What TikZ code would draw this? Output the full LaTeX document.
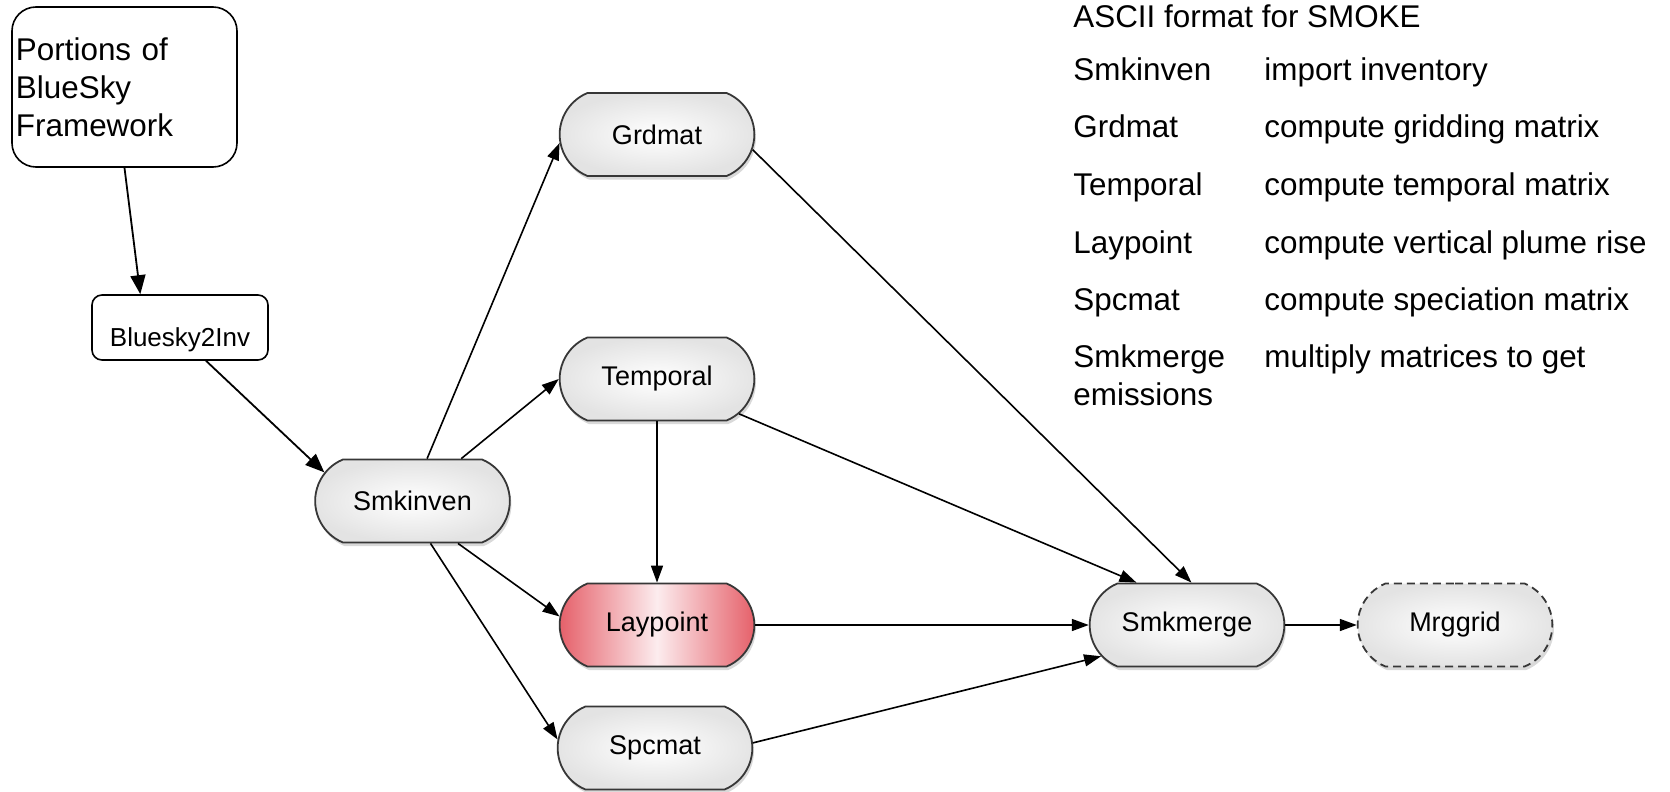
\documentclass[tikz,border=0pt]{standalone}
\usepackage{fontspec}
\setmainfont{Liberation Sans}
\usetikzlibrary{arrows.meta,shapes.misc,shadows}
\definecolor{edgegray}{RGB}{55,55,55}
\definecolor{layred}{RGB}{228,88,98}
\definecolor{laypink}{RGB}{252,236,238}
\begin{document}
\begin{tikzpicture}[x=0.5pt,y=-0.5pt,
  prog/.style={rounded rectangle, rounded rectangle arc length=135, draw=edgegray, line width=0.9pt,
    minimum width=104pt, minimum height=41.5pt, inner color=white, outer color=black!11,
    drop shadow={shadow xshift=0.8pt, shadow yshift=-1.8pt, opacity=0.3},
    font=\fontsize{13.5}{16}\selectfont},
  flow/.style={line width=0.8pt, -{Triangle[length=8.5pt,width=6pt]}},
  bigflow/.style={line width=0.9pt, -{Triangle[length=9.5pt,width=7.5pt]}},
  keytext/.style={anchor=base west, inner sep=0pt, font=\fontsize{15.7}{19}\selectfont}]
  \useasboundingbox (0,0) rectangle (1670,792);
  \node[draw, line width=0.8pt, rounded corners=12pt, text width=108.5pt, inner xsep=2pt, minimum height=80pt,
    align=left, font=\fontsize{15.7}{19}\selectfont] (portions) at (124.5,87) {Portions of\\BlueSky\\Framework};
  \node[draw, line width=0.8pt, rounded corners=5pt, minimum width=88pt, minimum height=32.5pt,
    text height=19pt, text depth=0pt, font=\fontsize{13}{15}\selectfont] (bluesky) at (180,327.5) {Bluesky2Inv};
  \node[prog] (smkinven) at (412.5,501) {Smkinven};
  \node[prog] (grdmat) at (657,134.5) {Grdmat};
  \node[prog] (temporal) at (657,379) {Temporal};
  \node[prog, left color=layred, right color=layred, middle color=laypink] (laypoint) at (657,625) {Laypoint};
  \node[prog] (spcmat) at (655,748) {Spcmat};
  \node[prog] (smkmerge) at (1187,625) {Smkmerge};
  \node[prog, dash pattern=on 4pt off 2.5pt] (mrggrid) at (1455,625) {Mrggrid};
  \draw[bigflow] (portions.south) -- (bluesky.140);
  \draw[bigflow] (bluesky.-52) -- (smkinven.162);
  \draw[flow] (smkinven.71) -- (grdmat.185);
  \draw[flow] (smkinven.41) -- (temporal.west);
  \draw[flow] (smkinven.-43) -- (laypoint.175);
  \draw[flow] (smkinven.-67) -- (spcmat.175);
  \draw[flow] (temporal.south) -- (laypoint.north);
  \draw[flow] (grdmat.-9) -- (smkmerge.84);
  \draw[flow] (temporal.-23) -- (smkmerge.140);
  \draw[flow] (laypoint.east) -- (smkmerge.west);
  \draw[flow] (spcmat.3) -- (smkmerge.200);
  \draw[flow] (smkmerge.east) -- (mrggrid.west);
  \node[keytext] (keyhead) at (1073,28) {ASCII format for SMOKE};
  \node[keytext] (keysmkinven) at (1073,81) {Smkinven};
  \node[keytext] (txtsmkinven) at (1264,81) {import inventory};
  \node[keytext] (keygrdmat) at (1073,138) {Grdmat};
  \node[keytext] (txtgrdmat) at (1264,138) {compute gridding matrix};
  \node[keytext] (keytemporal) at (1073,195) {Temporal};
  \node[keytext] (txttemporal) at (1264,195) {compute temporal matrix};
  \node[keytext] (keylaypoint) at (1073,253) {Laypoint};
  \node[keytext] (txtlaypoint) at (1264,253) {compute vertical plume rise};
  \node[keytext] (keyspcmat) at (1073,310) {Spcmat};
  \node[keytext] (txtspcmat) at (1264,310) {compute speciation matrix};
  \node[keytext] (keysmkmerge) at (1073,367) {Smkmerge};
  \node[keytext] (txtsmkmerge) at (1264,367) {multiply matrices to get};
  \node[keytext] (keyemis) at (1073,405) {emissions};
\end{tikzpicture}
\end{document}
